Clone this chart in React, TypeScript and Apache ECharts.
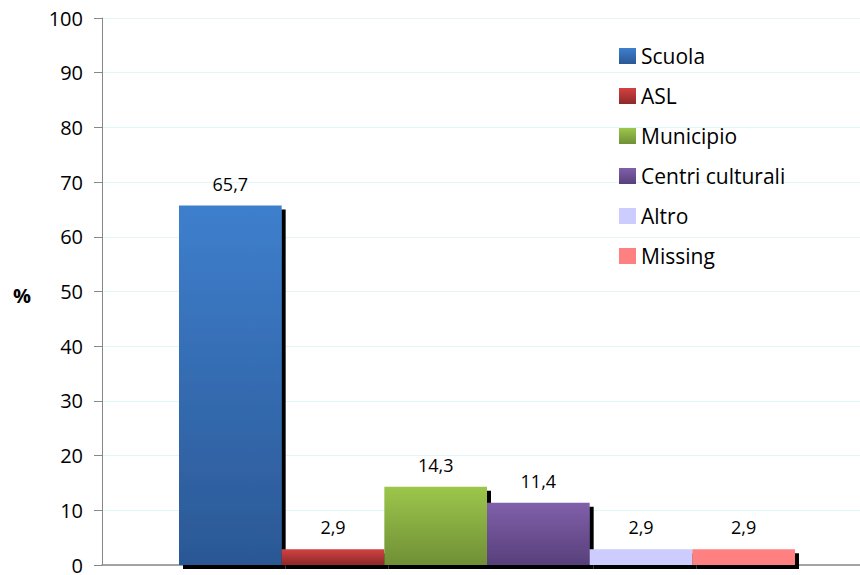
import React, { useEffect, useRef } from "react";
import * as echarts from "echarts";

const categories = [""];
const seriesNames = ["Scuola", "ASL", "Municipio", "Centri culturali", "Altro", "Missing"];
const seriesValues = [65.7, 2.9, 14.3, 11.4, 2.9, 2.9];
const yTicks = [0, 10, 20, 30, 40, 50, 60, 70, 80, 90, 100];
const topColors = ["#3e7fcd", "#d24242", "#9cc64b", "#8060aa", "#ccccff", "#ff8080"];
const bottomColors = ["#2b5895", "#8e2828", "#708f36", "#57407a", "#ccccff", "#ff8080"];

const FONT = "'Open Sans', Lato, sans-serif";

export default function App() {
  const ref = useRef<HTMLDivElement>(null);
  useEffect(() => {
    if (!ref.current) return;
    const chart = echarts.init(ref.current, undefined, { renderer: "svg" });
    const series = seriesNames.map((name, i) => ({
      name,
      type: "bar" as const,
      data: [seriesValues[i]],
      barGap: "0%",
      barCategoryGap: "20%",
      itemStyle: {
        color: new echarts.graphic.LinearGradient(0, 0, 0, 1, [
          { offset: 0, color: topColors[i] },
          { offset: 1, color: bottomColors[i] },
        ]),
        shadowColor: "#000",
        shadowBlur: 0,
        shadowOffsetX: 4,
        shadowOffsetY: 4,
      },
      label: {
        show: true,
        position: "top" as const,
        distance: 13,
        color: "#000",
        fontSize: 18,
        fontFamily: FONT,
        formatter: (p: any) => String(p.value).replace(".", ","),
      },
    }));
    chart.setOption({
      animation: false,
      textStyle: { fontFamily: FONT },
      grid: { left: 102, right: 0, top: 18, bottom: 9, containLabel: false },
      legend: {
        orient: "vertical",
        left: 614,
        top: 37,
        itemWidth: 17,
        itemHeight: 16,
        itemGap: 12,
        icon: "rect",
        textStyle: { fontSize: 21, lineHeight: 28, color: "#000", fontFamily: FONT },
        data: seriesNames,
      },
      xAxis: {
        type: "category",
        data: categories,
        axisLine: { show: true, lineStyle: { color: "#888", width: 1.5 } },
        axisTick: { show: false },
        axisLabel: { show: false },
      },
      yAxis: {
        type: "value",
        min: yTicks[0],
        max: yTicks[yTicks.length - 1],
        interval: 10,
        axisLine: { show: true, lineStyle: { color: "#888", width: 1 } },
        axisTick: { show: true, inside: false, length: 8, lineStyle: { color: "#888" } },
        axisLabel: { color: "#000", fontSize: 20, margin: 19, fontFamily: FONT },
        splitLine: { show: true, lineStyle: { color: "#dff7f7", width: 1 } },
      },
      graphic: [
        {
          type: "text",
          left: 13,
          top: 285,
          style: { text: "%", fontSize: 20, fontWeight: "bold", fill: "#000", fontFamily: FONT },
        },
      ],
      series,
    });
    return () => chart.dispose();
  }, []);
  return (
    <div style={{ width: 860, height: 575, overflow: "hidden", position: "absolute", left: 0, top: 0 }}>
      <div ref={ref} style={{ width: 872, height: 575 }} />
    </div>
  );
}
